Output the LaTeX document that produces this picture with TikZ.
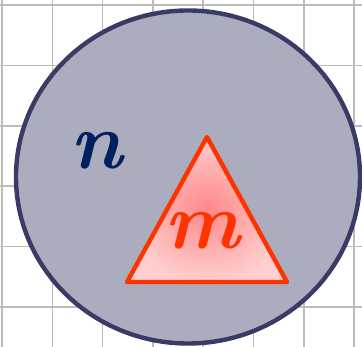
\documentclass[tikz,border=0pt]{standalone}
\usetikzlibrary{positioning}
\definecolor{gridgray}{RGB}{188,188,188}
\definecolor{setfill}{RGB}{171,172,190}
\definecolor{setline}{RGB}{58,58,102}
\definecolor{navytext}{RGB}{0,32,96}
\definecolor{subred}{RGB}{255,51,0}
\definecolor{subpink}{RGB}{255,136,136}
\definecolor{subpale}{RGB}{255,206,206}
\begin{document}
\begin{tikzpicture}[x=1pt, y=-1pt,
    gridline/.style={draw=gridgray, line width=1.5pt},
    bigset/.style={draw=setline, fill=setfill, line width=4.4pt},
    subset/.style={draw=subred, line width=4.4pt, line join=round, inner color=subpink, outer color=subpale},
    setlabel/.style={font=\fontsize{80}{80}\selectfont\bfseries\itshape, inner sep=0pt}]
  \useasboundingbox (0,0) rectangle (362,347);
  \fill[white] (0,0) rectangle (362,347);
  % background grid
  \foreach \gx in {2,52.3,102.6,152.9,203.2,253.5,303.8,354.1}
    \draw[gridline] (\gx,0) -- (\gx,347);
  \foreach \gy in {5,65.4,125.8,186.2,246.6,307}
    \draw[gridline] (0,\gy) -- (362,\gy);
  % the big set
  \path[bigset] (188,177) ellipse [x radius=172, y radius=166.5];
  % the subset
  \coordinate (apex) at (207,137);
  \coordinate (bl) at (127,282);
  \coordinate (br) at (287,282);
  \shade[subset] (apex) -- (br) -- (bl) -- cycle;
  \node[setlabel, text=navytext] (nlab) at (96,151) {n};
  \node[setlabel, text=subred] (mlab) at (202,231) {m};
\end{tikzpicture}
\end{document}
